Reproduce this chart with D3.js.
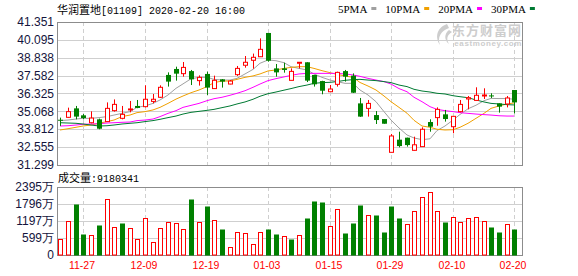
<!DOCTYPE html>
<html>
<head>
<meta charset="utf-8">
<script src="https://cdn.jsdelivr.net/npm/d3@7/dist/d3.min.js"></script>
<style>
  body { margin: 0; background: #fff; }
  svg { display: block; }
</style>
</head>
<body>
<div id="chart"></div>
<script>
// 华润置地 01109 daily candles, 2019-11-22 .. 2020-02-20
const dates = ["11-22","11-25","11-26","11-27","11-28","11-29","12-02","12-03","12-04","12-05",
  "12-06","12-09","12-10","12-11","12-12","12-13","12-16","12-17","12-18","12-19",
  "12-20","12-23","12-24","12-27","12-30","12-31","01-02","01-03","01-06","01-07",
  "01-08","01-09","01-10","01-13","01-14","01-15","01-16","01-17","01-20","01-21",
  "01-22","01-23","01-24","01-29","01-30","01-31","02-03","02-04","02-05","02-06",
  "02-07","02-10","02-11","02-12","02-13","02-14","02-17","02-18","02-19","02-20"];

const open = [34.48,34.65,35.28,34.79,34.27,34.51,34.35,35.12,34.58,35.17,
  35.45,35.40,35.77,36.06,37.63,38.05,37.72,37.90,37.23,37.70,
  36.67,37.32,36.99,37.65,38.31,38.66,38.91,40.58,38.09,38.09,
  37.25,38.45,38.52,37.63,37.20,36.45,36.97,37.90,37.58,35.63,
  35.28,34.81,34.53,32.19,33.08,33.22,32.33,32.59,34.32,34.63,
  34.86,33.99,35.05,35.94,35.84,36.15,36.19,35.63,35.59,36.57];
const high = [34.63,35.33,35.45,34.88,35.07,34.56,35.70,35.91,35.45,35.80,
  35.87,36.90,36.29,36.90,37.81,38.21,38.54,37.98,37.60,37.86,
  37.58,37.34,37.27,38.26,38.96,39.13,40.20,40.58,38.40,38.49,
  38.09,38.52,38.52,37.63,37.22,36.92,37.86,37.98,37.74,36.01,
  35.87,35.09,34.53,33.48,33.64,33.22,33.29,33.95,34.51,35.35,
  35.17,34.72,35.87,36.15,36.76,36.69,36.34,35.63,36.15,36.57];
const low = [34.05,34.62,34.51,34.51,34.23,33.81,34.32,35.05,34.51,35.00,
  35.29,35.35,35.63,36.01,36.81,37.23,37.51,36.92,36.88,36.22,
  36.67,36.74,36.97,37.56,38.14,38.07,38.91,38.56,37.51,37.79,
  37.25,38.09,37.13,36.81,36.27,36.43,36.81,37.16,36.36,34.68,
  34.70,34.18,34.20,32.19,32.54,32.59,32.31,32.59,33.64,34.06,
  34.35,33.53,35.00,35.21,35.84,35.94,36.01,34.98,35.35,34.93];
const close = [34.45,35.05,34.70,34.60,34.60,33.85,35.28,35.56,34.86,35.24,
  35.31,35.92,35.92,36.76,37.16,37.72,38.16,37.32,37.46,36.74,
  37.25,37.16,37.20,38.09,38.52,38.87,39.43,38.63,37.81,37.98,
  37.88,38.52,37.23,36.97,36.52,36.64,37.81,37.51,36.38,34.70,
  35.63,34.46,34.20,33.34,32.63,32.70,32.72,33.81,33.99,35.21,
  34.53,34.72,35.56,36.03,36.20,36.22,36.17,35.40,36.01,35.70];
const prevClose = 34.30;   // close of the day before the first candle

// volume in 万股
const volume = [561,1215,1787,736,689,1051,1986,981,1121,946,
  561,1320,444,946,1145,1110,911,1962,1145,1717,
  1226,911,269,794,759,374,794,911,736,666,
  561,689,1296,1892,1857,1004,1612,771,1121,1752,
  1425,1402,806,1717,1296,1075,1565,2056,2231,1565,
  1156,1355,1156,1320,1355,1215,981,806,1075,918];
const lastVolume = "9180341";

// moving averages as drawn
const ma5 = [34.42,34.46,34.53,34.58,34.58,34.63,34.70,34.81,34.93,35.05,
  35.35,35.45,35.63,35.87,36.22,36.69,37.00,37.36,37.46,37.46,
  37.32,37.27,37.27,37.39,37.70,38.02,38.45,38.68,38.63,38.49,
  38.21,38.09,37.98,37.70,37.46,37.27,37.16,37.04,37.04,36.57,
  36.22,35.75,35.05,34.46,33.90,33.41,33.20,33.08,33.14,33.72,
  34.04,34.46,34.85,35.25,35.50,35.82,35.98,35.97,35.97,35.92];
const ma10 = [33.76,33.85,33.95,34.04,34.11,34.23,34.35,34.46,34.70,34.81,
  34.98,35.05,35.17,35.35,35.63,35.93,36.15,36.38,36.57,36.81,
  37.09,37.20,37.20,37.32,37.46,37.56,37.70,37.91,37.98,38.09,
  38.16,38.21,38.21,38.09,37.93,37.79,37.67,37.56,37.46,37.10,
  36.85,36.57,36.15,35.75,35.35,34.94,34.44,34.04,33.95,33.81,
  33.76,33.78,33.95,34.23,34.58,34.93,35.28,35.45,35.59,35.66];
const ma20 = [34.04,34.06,34.11,34.16,34.18,34.20,34.25,34.27,34.30,34.32,
  34.42,34.46,34.53,34.70,34.93,35.12,35.35,35.49,35.63,35.82,
  35.96,36.06,36.20,36.34,36.52,36.76,36.99,37.23,37.37,37.49,
  37.60,37.70,37.74,37.74,37.74,37.74,37.74,37.70,37.63,37.53,
  37.39,37.27,37.16,36.99,36.67,36.45,36.06,35.75,35.40,35.21,
  35.12,35.05,34.98,34.93,34.88,34.84,34.81,34.76,34.74,34.74];
const ma30 = [34.27,34.25,34.23,34.18,34.11,34.04,34.06,34.11,34.18,34.23,
  34.27,34.35,34.42,34.51,34.63,34.74,34.88,35.00,35.07,35.14,
  35.21,35.33,35.45,35.59,35.73,35.92,36.13,36.31,36.43,36.56,
  36.67,36.81,36.92,37.04,37.09,37.11,37.16,37.25,37.30,37.32,
  37.27,37.23,37.16,37.09,36.92,36.81,36.62,36.50,36.43,36.34,
  36.29,36.17,36.10,36.03,35.87,35.73,35.63,35.59,35.54,35.52];

const priceTicks = [31.299,32.555,33.812,35.068,36.325,37.582,38.838,40.095,41.351];
const volTicks = [0,599,1197,1796,2395];
const dateLabels = ["11-27","12-09","12-19","01-03","01-15","01-29","02-10","02-20"];
const maNames = ["5PMA","10PMA","20PMA","30PMA"];
const maColors = ["#a0a0a0","#f0a000","#ff00ff","#007a33"];

const W = 578, H = 276;
const left = 57, right = 522;
const kTop = 22, kBottom = 165;
const vTop = 187, vBottom = 255;
const UP = "#ff0000", DOWN = "#008000";
const GRID = "#cfcfcf", FRAME = "#8c8c8c";
const labelFont = "'Liberation Sans', Arial, sans-serif";
const cjkFont = "'Noto Sans CJK SC', sans-serif";
const monoFont = "'Liberation Mono', monospace";

const svg = d3.select("#chart").append("svg")
  .attr("width", W).attr("height", H)
  .style("font-family", labelFont);

const x = d3.scaleBand().domain(dates).range([56.5, 518.2]);
const cx = d => Math.round(x(d) + x.bandwidth() / 2);
const y = d3.scaleLinear().domain([priceTicks[0], priceTicks[priceTicks.length - 1]]).range([kBottom, kTop]);
const yv = d3.scaleLinear().domain([0, volTicks[volTicks.length - 1]]).range([vBottom, vTop]);

const idx = d3.range(dates.length);

// watermark
const wm = svg.append("g").attr("fill", "#cdcdcd");
wm.append("path")
  .attr("d", "M447,24 C438,27 434,36 440,45 C437,37 441,31 449,28 Z M449,30 C444,34 444,40 449,44 C446,39 447,35 452,32 Z");
wm.append("text").attr("x", 522).attr("y", 35).attr("text-anchor", "end")
  .style("font-family", cjkFont).style("font-size", "13px").style("font-weight", "bold")
  .style("letter-spacing", "1px")
  .text("东方财富网");
wm.append("text").attr("x", 522).attr("y", 46).attr("text-anchor", "end")
  .style("font-size", "8px").style("font-weight", "bold").style("letter-spacing", "0.6px")
  .text("eastmoney.com");

// grid
function panelGrid(yScale, ticks, top, bottom) {
  svg.append("g").selectAll("line").data(ticks.slice(1, -1)).join("line")
    .attr("x1", left).attr("x2", right)
    .attr("y1", d => Math.round(yScale(d)) + 0.5).attr("y2", d => Math.round(yScale(d)) + 0.5)
    .attr("stroke", GRID);
  svg.append("g").selectAll("line").data(dateLabels).join("line")
    .attr("x1", d => cx(d) + 0.5).attr("x2", d => cx(d) + 0.5)
    .attr("y1", top).attr("y2", bottom)
    .attr("stroke", GRID).attr("stroke-dasharray", "4,3");
  svg.append("rect")
    .attr("x", left + 0.5).attr("y", Math.round(top) + 0.5)
    .attr("width", right - left).attr("height", Math.round(bottom - top))
    .attr("fill", "none").attr("stroke", FRAME);
}
panelGrid(y, priceTicks, kTop, kBottom);
panelGrid(yv, volTicks, vTop, vBottom);

// price axis labels
svg.append("g").selectAll("text").data(priceTicks).join("text")
  .attr("x", 54).attr("y", d => y(d)).attr("dy", "0.35em")
  .attr("text-anchor", "end").attr("fill", "#14143c").style("font-size", "12px")
  .text(d => d.toFixed(3));

// volume axis labels
svg.append("g").selectAll("text").data(volTicks).join("text")
  .attr("x", 54).attr("y", d => yv(d)).attr("dy", "0.35em")
  .attr("text-anchor", "end").attr("fill", "#14143c").style("font-size", "12px")
  .text(d => d === 0 ? "0" : d + "万");

// date labels
svg.append("g").selectAll("text").data(dateLabels).join("text")
  .attr("x", d => cx(d) - 1).attr("y", 269)
  .attr("text-anchor", "middle").attr("fill", "#ff0000")
  .style("font-size", "10.5px")
  .text(d => d);

// moving averages
[ma5, ma10, ma20, ma30].forEach((m, k) => {
  svg.append("path")
    .attr("d", d3.line().x(i => cx(dates[i])).y(i => y(m[i]))(idx))
    .attr("fill", "none").attr("stroke", maColors[k]).attr("stroke-width", 1);
});

// candles
const isUp = i => close[i] >= open[i];
const candles = svg.append("g").selectAll("g").data(idx).join("g");
candles.append("line")
  .attr("x1", i => cx(dates[i]) + 0.5).attr("x2", i => cx(dates[i]) + 0.5)
  .attr("y1", i => y(high[i])).attr("y2", i => y(low[i]))
  .attr("stroke", i => isUp(i) ? UP : DOWN);
candles.append("rect")
  .attr("x", i => isUp(i) ? cx(dates[i]) - 1.5 : cx(dates[i]) - 2)
  .attr("y", i => y(Math.max(open[i], close[i])))
  .attr("width", i => isUp(i) ? 4 : 5)
  .attr("height", i => Math.max(1, y(Math.min(open[i], close[i])) - y(Math.max(open[i], close[i]))))
  .attr("fill", i => isUp(i) ? "#fff" : DOWN)
  .attr("stroke", i => isUp(i) ? UP : "none");

// volume bars, coloured against previous close
const volUp = i => close[i] >= (i === 0 ? prevClose : close[i - 1]);
svg.append("g").selectAll("rect").data(idx).join("rect")
  .attr("x", i => volUp(i) ? cx(dates[i]) - 1.5 : cx(dates[i]) - 2)
  .attr("y", i => Math.round(yv(volume[i])) + 0.5)
  .attr("width", i => volUp(i) ? 4 : 5)
  .attr("height", i => vBottom - Math.round(yv(volume[i])) - (volUp(i) ? 0.5 : 0))
  .attr("fill", i => volUp(i) ? "#fff" : DOWN)
  .attr("stroke", i => volUp(i) ? UP : "none");

// titles
function title(xp, yp, cjk, rest) {
  const t = svg.append("text").attr("x", xp).attr("y", yp).attr("fill", "#000");
  t.append("tspan").style("font-family", cjkFont).style("font-size", "11px").text(cjk);
  t.append("tspan").style("font-family", monoFont).style("font-size", "10px").text(rest);
}
title(57, 14, "华润置地", "[01109] 2020-02-20 16:00");
title(58, 182, "成交量", ":" + lastVolume);

// legend
const lg = svg.append("g");
let lx = 338;
maNames.forEach((n, k) => {
  const t = lg.append("text").attr("x", lx).attr("y", 13)
    .style("font-family", "'Liberation Serif', serif").style("font-size", "11px")
    .attr("fill", "#000").text(n);
  lx += t.node().getComputedTextLength() + 4;
  lg.append("rect").attr("x", lx).attr("y", 7).attr("width", 5).attr("height", 3).attr("fill", maColors[k]);
  lx += 14;
});
</script>
</body>
</html>
